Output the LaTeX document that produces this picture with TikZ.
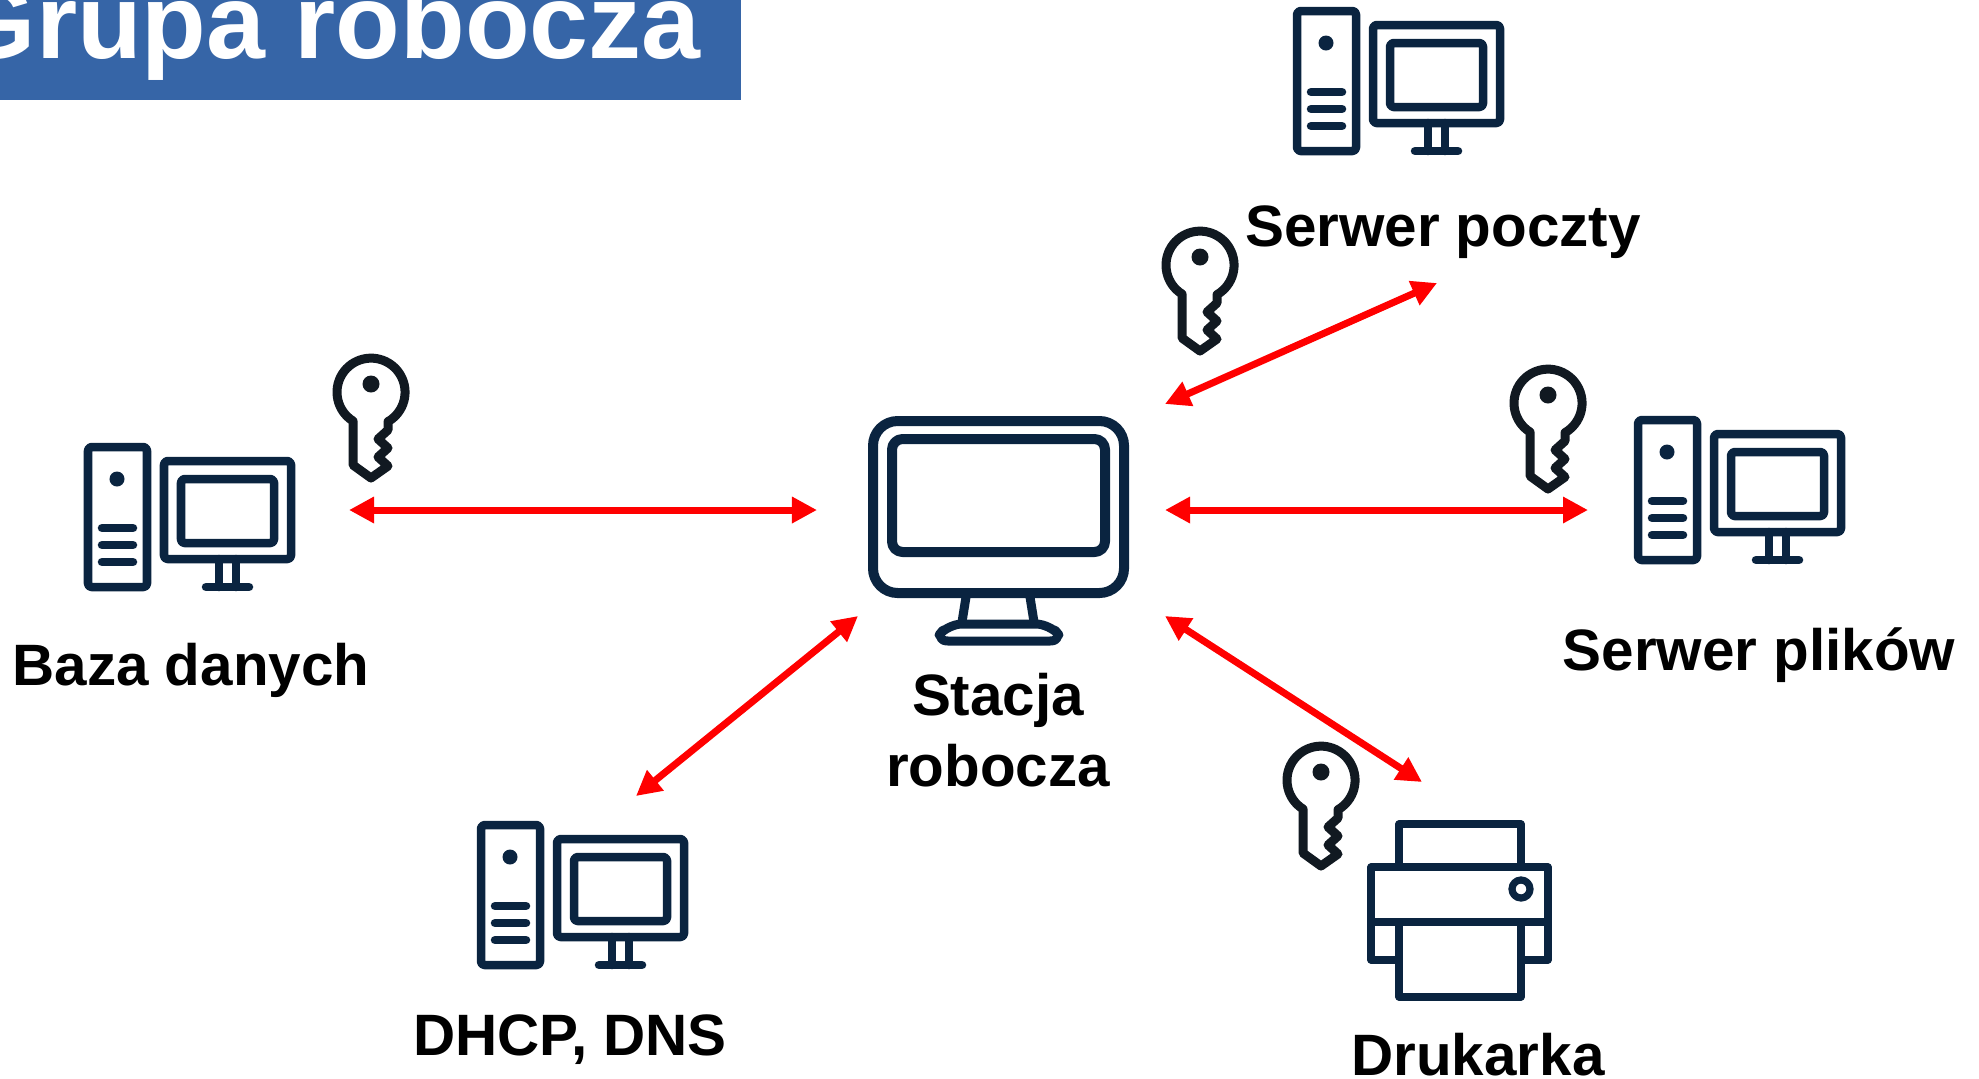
\documentclass[tikz,border=0pt]{standalone}
\usepackage{fontspec}
\setmainfont{Liberation Sans}
\definecolor{bannerblue}{RGB}{54, 101, 167}
\definecolor{iconnavy}{RGB}{10, 36, 64}
\definecolor{keydark}{RGB}{17, 25, 33}
\usetikzlibrary{arrows.meta}

\begin{document}
\begin{tikzpicture}[
  x=0.01cm, y=-0.01cm,
  arr/.style={{Triangle[length=0.25cm, width=0.25cm]}-{Triangle[length=0.25cm, width=0.25cm]}, red, line width=0.07cm},
  lbl/.style={font=\fontsize{16.6}{20}\selectfont\bfseries, anchor=base, inner sep=0pt, align=center},
  icon/.style={draw=iconnavy, line width=0.085cm, line join=round, line cap=round},
  pccomp/.pic={
    \draw[icon, rounded corners=1pt] (4, 4) rectangle (63, 144);
    \fill[iconnavy] (33, 36) circle (0.075cm);
    \foreach \yy in {85, 102, 119} \draw[icon] (18, \yy) -- (49, \yy);
    \draw[icon, rounded corners=1pt] (80, 18) rectangle (207, 116);
    \draw[icon, rounded corners=1pt] (97, 36) rectangle (190, 100);
    \draw[icon] (135, 116) -- (135, 144) (152, 116) -- (152, 144);
    \draw[icon] (122, 144) -- (165, 144);
  },
  keyicon/.pic={
    \draw[draw=keydark, line width=0.09cm, line join=round]
      (-18, 29) arc[start angle=238, end angle=-60, radius=0.34cm]
      -- (17, 38) -- (7, 47) -- (17, 56) -- (7, 65) -- (17, 74) -- (0, 86) -- (-18, 73) -- cycle;
    \fill[keydark] (0, -8) circle (0.085cm);
  },
]
  \useasboundingbox (0, 0) rectangle (1979, 1078);

  \fill[bannerblue] (0, 0) rectangle (741, 100);
  \node[anchor=base west, inner sep=0pt, text=white, font=\fontsize{30.1}{36}\selectfont\bfseries] (title) at (-47, 58) {Grupa robocza};

  \pic at (84, 443) {pccomp};
  \pic at (1293, 7) {pccomp};
  \pic at (1634, 416) {pccomp};
  \pic at (477, 821) {pccomp};

  \pic at (371, 392) {keyicon};
  \pic at (1200, 265) {keyicon};
  \pic at (1548, 403) {keyicon};
  \pic at (1321, 780) {keyicon};

  % stacja
  \draw[icon, line width=0.1cm, rounded corners=7pt] (873, 421) rectangle (1124, 593);
  \draw[icon, line width=0.1cm, rounded corners=3pt] (892, 439) rectangle (1105, 552);
  \draw[icon, line width=0.09cm] (966, 597) -- (962, 622) (1030, 597) -- (1034, 622);
  \draw[icon, line width=0.09cm, rounded corners=4pt] (934, 641) -- (948, 624) -- (1050, 624) -- (1064, 641) -- cycle;

  % drukarka
  \begin{scope}[every path/.style={draw=iconnavy, line width=0.072cm, line join=round}]
    \draw (1399, 867) -- (1399, 824) -- (1521, 824) -- (1521, 867);
    \draw (1371, 867) rectangle (1548, 960);
    \draw (1371, 922) -- (1548, 922);
    \draw[fill=white] (1399, 922) rectangle (1521, 997);
    \draw (1521, 889) circle (0.09cm);
  \end{scope}

  \node[lbl] (baza) at (191, 685) {Baza danych};
  \node[lbl] (poczta) at (1443, 246) {Serwer poczty};
  \node[lbl] (pliki) at (1759, 670) {Serwer plików};
  \node[lbl, anchor=center] (stacja) at (998, 730) {Stacja\\robocza};
  \node[lbl] (dhcp) at (570, 1055) {DHCP, DNS};
  \node[lbl] (drukarka) at (1478, 1075) {Drukarka};

  \coordinate (bazaE) at (349, 510);
  \coordinate (stacjaW) at (817, 510);
  \coordinate (stacjaNE) at (1165, 404);
  \coordinate (pocztaS) at (1437, 283);
  \coordinate (stacjaE) at (1165, 510);
  \coordinate (plikiW) at (1588, 510);
  \coordinate (stacjaSE) at (1165, 616);
  \coordinate (drukarkaN) at (1422, 782);
  \coordinate (stacjaSW) at (858, 616);
  \coordinate (dhcpN) at (636, 796);

  \draw[arr] (bazaE) -- (stacjaW);
  \draw[arr] (stacjaNE) -- (pocztaS);
  \draw[arr] (stacjaE) -- (plikiW);
  \draw[arr] (stacjaSE) -- (drukarkaN);
  \draw[arr] (stacjaSW) -- (dhcpN);
\end{tikzpicture}
\end{document}
